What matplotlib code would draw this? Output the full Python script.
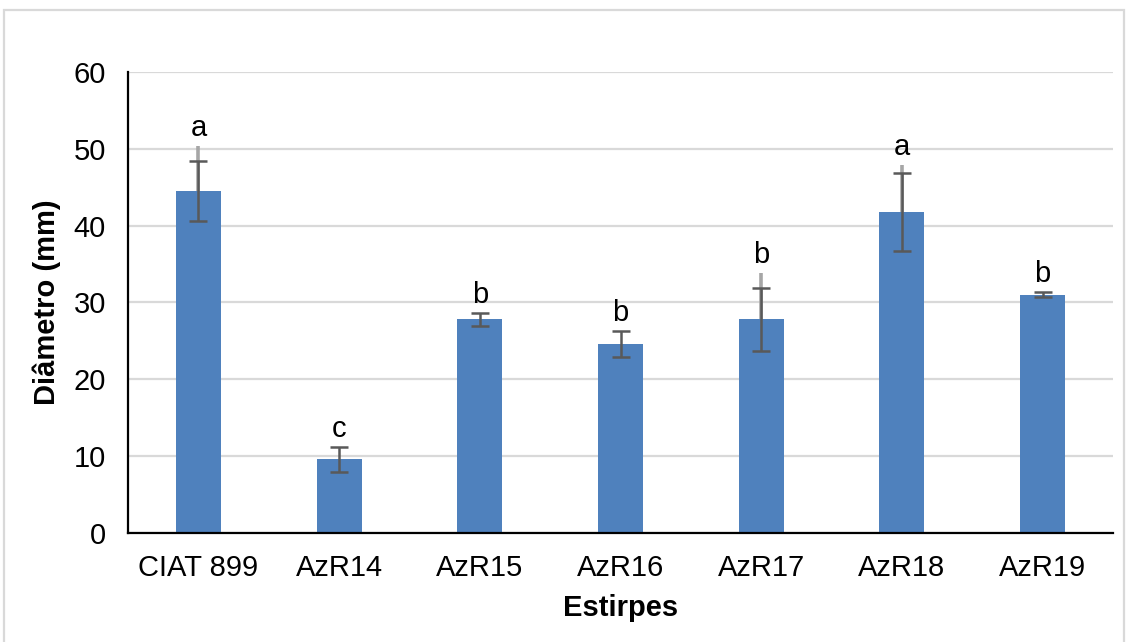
import numpy as np
import matplotlib
matplotlib.use('Agg')
import matplotlib.pyplot as plt
from matplotlib.patches import Rectangle

plt.rcParams['font.family'] = ['Liberation Sans', 'DejaVu Sans']

estirpes = ['CIAT 899', 'AzR14', 'AzR15', 'AzR16', 'AzR17', 'AzR18', 'AzR19']
diametro = [44.5, 9.6, 27.8, 24.6, 27.8, 41.8, 31.0]
desvio = [3.85, 1.6, 0.85, 1.7, 4.1, 5.05, 0.3]
desvio_sup = [5.9, 0, 0, 0, 6.0, 6.1, 0]
letras = ['a', 'c', 'b', 'b', 'b', 'a', 'b']

x = np.arange(len(estirpes))
fig = plt.figure(figsize=(11.3, 6.42), dpi=100)
ax = fig.add_axes([0.1133, 0.1698, 0.8717, 0.7181])

ax.bar(x, diametro, width=0.32, color='#4F81BD', zorder=2)

# barra de erro clara (so para cima) e barra escura com traços
zeros = np.zeros(len(x))
ax.errorbar(x, diametro, yerr=[zeros, desvio_sup], fmt='none', ecolor='#A6A6A6',
            elinewidth=2.6, capsize=0, zorder=3)
ax.errorbar(x, diametro, yerr=desvio, fmt='none', ecolor='#595959',
            elinewidth=1.8, capsize=6.5, capthick=1.8, zorder=4)

for xi, m, d, ds, l in zip(x, diametro, desvio, desvio_sup, letras):
    topo = m + max(d, ds)
    ax.annotate(l, (xi, topo), xytext=(0, 3), textcoords='offset points',
                ha='center', va='bottom', fontsize=21)

ax.set_ylim(0, 60)
ax.set_xlim(-0.5, len(x) - 0.5)
ax.set_yticks(range(0, 61, 10))
ax.set_xticks(x)
ax.set_xticklabels(estirpes)
ax.tick_params(axis='both', length=0, labelsize=21)
ax.tick_params(axis='x', pad=15)
ax.tick_params(axis='y', pad=16)
ax.grid(axis='y', color='#D9D9D9', linewidth=1.6, zorder=0)
ax.set_axisbelow(True)
for s in ['top', 'right']:
    ax.spines[s].set_visible(False)
ax.spines['left'].set_linewidth(1.6)
ax.spines['bottom'].set_linewidth(1.6)

ax.set_xlabel('Estirpes', fontsize=21, fontweight='bold', labelpad=9)
ax.set_ylabel('Diâmetro (mm)', fontsize=21, fontweight='bold', labelpad=9)

fig.patches.append(Rectangle((4 / 1130, -0.05), 1120 / 1130, 1.05 - 10 / 642,
                             transform=fig.transFigure, fill=False,
                             edgecolor='#D9D9D9', linewidth=1.6))

fig.savefig('out.png', dpi=100)
